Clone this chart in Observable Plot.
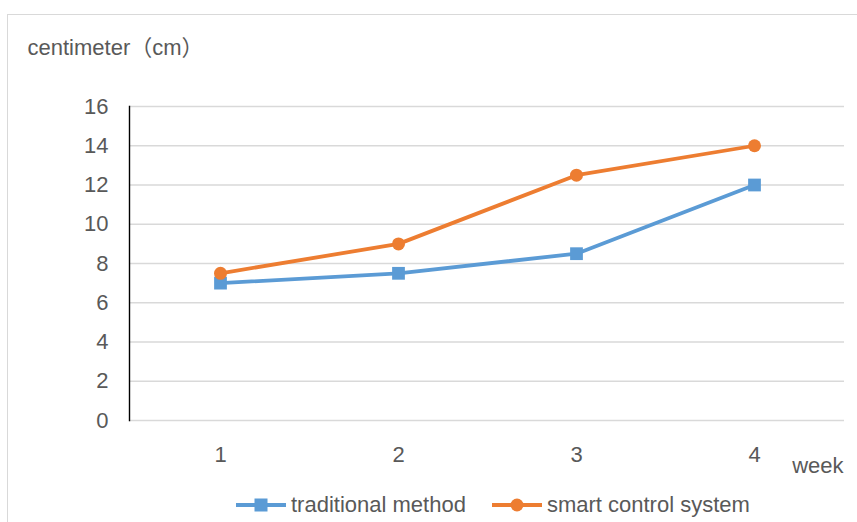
<!DOCTYPE html>
<html><head><meta charset="utf-8">
<script src="https://cdn.jsdelivr.net/npm/d3@7"></script>
<script src="https://cdn.jsdelivr.net/npm/@observablehq/plot@0.6"></script>
<style>
body{margin:0;background:#fff;width:857px;height:522px;overflow:hidden;position:relative;font-family:"Liberation Sans",Arial,sans-serif;}
#border{position:absolute;left:7px;top:14px;width:900px;height:600px;border:1px solid #d9d9d9;box-sizing:border-box;}
#chart{position:absolute;left:0;top:0;}
#legend{position:absolute;top:493px;left:236px;display:flex;align-items:center;font-size:22px;color:#595959;white-space:nowrap;}
.item{display:flex;align-items:center;margin-right:26px;height:24px;}
.item svg{margin-right:5px;}
</style>
</head><body>
<div id="border"></div>
<div id="chart"></div>
<div id="legend"></div>
<script>
const weeks = [1, 2, 3, 4];
const seriesNames = ["traditional method", "smart control system"];
const traditional = [7, 7.5, 8.5, 12];
const smart = [7.5, 9, 12.5, 14];
const yTicks = [0, 2, 4, 6, 8, 10, 12, 14, 16];
const colors = ["#5b9bd5", "#ed7d31"];
const symbols = ["square", "circle"];
const yLabel = "centimeter（cm）";
const xLabel = "week";

const data = [];
weeks.forEach((w, i) => {
  data.push({week: w, value: traditional[i], series: seriesNames[0]});
});
weeks.forEach((w, i) => {
  data.push({week: w, value: smart[i], series: seriesNames[1]});
});

const font = "Liberation Sans, Arial, sans-serif";
const txt = "#595959";

const plot = Plot.plot({
  width: 857,
  height: 522,
  marginLeft: 129,
  marginRight: 13,
  marginTop: 106,
  marginBottom: 102,
  style: {fontFamily: font, fontSize: "22px", color: txt, background: "transparent"},
  x: {type: "point", domain: weeks, padding: 0.5, axis: null},
  y: {domain: [0, 16], axis: null},
  color: {domain: seriesNames, range: colors},
  marks: [
    Plot.ruleY(yTicks, {stroke: "#d9d9d9", strokeWidth: 1.4}),
    Plot.frame({anchor: "left", stroke: "#000", strokeWidth: 1.4}),
    Plot.axisY(yTicks, {tickSize: 0, tickPadding: 21, fill: txt, fontSize: 22, label: null}),
    Plot.axisX(weeks, {tickSize: 0, tickPadding: 26, fill: txt, fontSize: 22, label: null}),
    Plot.lineY(data.filter(d => d.series === seriesNames[0]), {x: "week", y: "value", stroke: colors[0], strokeWidth: 3.8}),
    Plot.dot(data.filter(d => d.series === seriesNames[0]), {x: "week", y: "value", symbol: "square", r: 7.2, fill: colors[0], stroke: "none"}),
    Plot.lineY(data.filter(d => d.series === seriesNames[1]), {x: "week", y: "value", stroke: colors[1], strokeWidth: 3.8}),
    Plot.dot(data.filter(d => d.series === seriesNames[1]), {x: "week", y: "value", symbol: "circle", r: 6.5, fill: colors[1], stroke: "none"}),
    Plot.text([yLabel], {frameAnchor: "top-left", text: d => d, textAnchor: "start", dx: -102, dy: -67, fontSize: 22, fill: txt, fontFamily: "Liberation Sans, Noto Sans CJK JP, sans-serif"}),
    Plot.text([xLabel], {frameAnchor: "bottom-right", text: d => d, textAnchor: "end", dx: -1, dy: 52, fontSize: 22, fill: txt})
  ]
});
document.getElementById("chart").appendChild(plot);

const legend = document.getElementById("legend");
seriesNames.forEach((name, i) => {
  const item = document.createElement("div");
  item.className = "item";
  const sym = symbols[i] === "square"
    ? `<rect x="18.5" y="4.5" width="13" height="13" fill="${colors[i]}"/>`
    : `<circle cx="25" cy="11" r="6.5" fill="${colors[i]}"/>`;
  item.innerHTML = `<svg width="50" height="22"><line x1="0" x2="50" y1="11" y2="11" stroke="${colors[i]}" stroke-width="3.8"/>${sym}</svg><span>${name}</span>`;
  legend.appendChild(item);
});
</script>
</body></html>
